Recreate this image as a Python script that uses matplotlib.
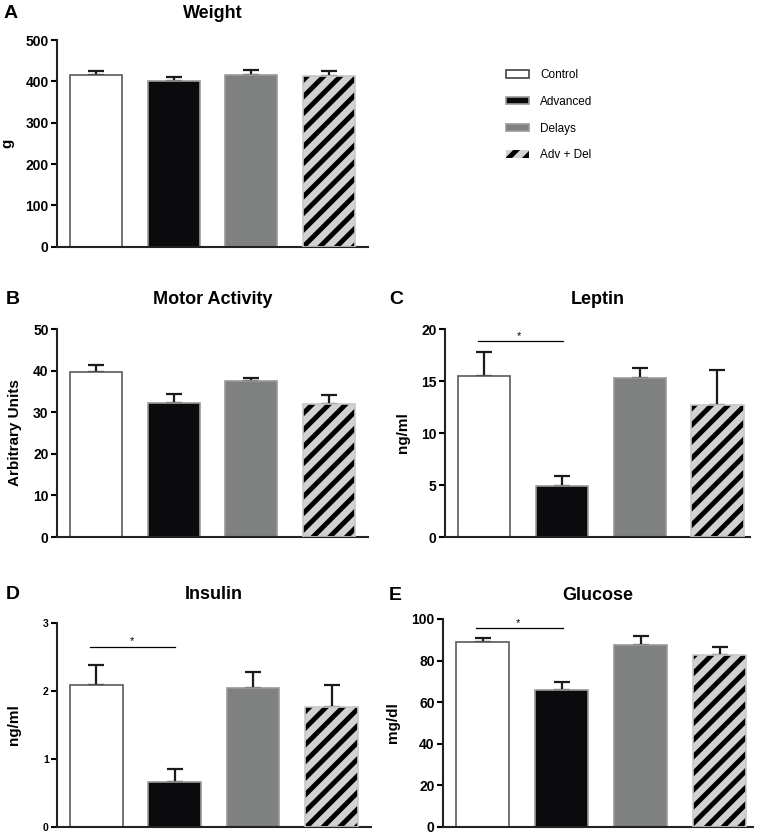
import numpy as np
import matplotlib
matplotlib.use("Agg")
import matplotlib.pyplot as plt
from matplotlib.patches import Patch
from matplotlib.transforms import blended_transform_factory, offset_copy

plt.rcParams['font.family'] = ['Liberation Sans', 'DejaVu Sans']
plt.rcParams['hatch.linewidth'] = 3.5

groups = ['Control', 'Advanced', 'Delays', 'Adv + Del']

weight = [415, 402, 415, 412]
weight_err = [9, 9, 13, 14]
motor = [39.6, 32.3, 37.4, 31.9]
motor_err = [1.8, 2.1, 0.9, 2.2]
leptin = [15.5, 4.9, 15.3, 12.7]
leptin_err = [2.3, 1.0, 1.0, 3.4]
insulin = [2.08, 0.66, 2.04, 1.76]
insulin_err = [0.30, 0.19, 0.23, 0.32]
glucose = [89.1, 65.8, 87.6, 82.7]
glucose_err = [1.6, 4.0, 4.2, 3.8]

faces = ['white', '#0b0b0d', '#7f8181', '#d2d2d2']
edges = ['#5a5a5a', '#9a9a9a', '#9a9a9a', '#c8c8c8']

fig = plt.figure(figsize=(7.6, 8.34), dpi=100)


def panel(rect, vals, errs, title, letter, ylabel, ymax, step, xmax=3.5,
          sig=None, small=False, pad=14, labelpad=8):
    ax = fig.add_axes(rect)
    x = np.arange(len(vals))
    for i in range(len(vals)):
        if i == 3:
            ax.bar(x[i], vals[i], 0.67, color=faces[i], edgecolor='black',
                   hatch='//', linewidth=0, zorder=2)
            ax.bar(x[i], vals[i], 0.67, fill=False, edgecolor=edges[i],
                   linewidth=1.2, zorder=3)
        else:
            ax.bar(x[i], vals[i], 0.67, color=faces[i], edgecolor=edges[i],
                   linewidth=1.2, zorder=2)
    ax.errorbar(x, vals, yerr=[np.zeros(len(errs)), errs], fmt='none',
                ecolor='#1a1a1a', elinewidth=1.6, capsize=6, capthick=1.6,
                zorder=1)
    ax.set_xlim(-0.5, xmax)
    ax.set_ylim(0, ymax)
    ax.set_yticks(np.arange(0, ymax + step / 2, step))
    ax.set_xticks([])
    for s in ['top', 'right']:
        ax.spines[s].set_visible(False)
    for s in ['left', 'bottom']:
        ax.spines[s].set_linewidth(1.5)
        ax.spines[s].set_color('#222222')
    ax.tick_params(axis='y', direction='out', length=4, width=1.5,
                   labelsize=7.5 if small else 10, pad=2)
    for lab in ax.get_yticklabels():
        lab.set_fontweight('bold')
    ax.set_ylabel(ylabel, fontsize=11, fontweight='bold', labelpad=labelpad)
    ax.set_title(title, fontsize=13, fontweight='bold', pad=pad)
    if sig is not None:
        ax.plot([-0.08, 1.01], [sig, sig], color='black', lw=0.9,
                clip_on=False)
        ax.text(0.45, sig, '*', ha='center', va='bottom', fontsize=8)
    tr = offset_copy(blended_transform_factory(fig.transFigure, ax.transAxes),
                     fig=fig, y=pad, units='points')
    ax.text(letter[1], 1, letter[0], transform=tr, fontsize=14,
            fontweight='bold', va='baseline', ha='left')
    return ax


panel([0.075, 0.704, 0.409, 0.248], weight, weight_err, 'Weight',
      ('A', 0.004), 'g', 500, 100, pad=16)
panel([0.075, 0.356, 0.409, 0.2495], motor, motor_err, 'Motor Activity',
      ('B', 0.008), 'Arbitrary Units', 50, 10, pad=18)
panel([0.5855, 0.356, 0.4015, 0.2495], leptin, leptin_err, 'Leptin',
      ('C', 0.512), 'ng/ml', 20, 5, xmax=3.42, sig=18.8, pad=18)
panel([0.075, 0.0084, 0.413, 0.245], insulin, insulin_err, 'Insulin',
      ('D', 0.008), 'ng/ml', 3, 1, sig=2.65, small=True, pad=17,
      labelpad=16)
panel([0.583, 0.0084, 0.408, 0.2494], glucose, glucose_err, 'Glucose',
      ('E', 0.512), 'mg/dl', 100, 20, xmax=3.42, sig=95.5, pad=14)

handles = []
for i in range(4):
    if i == 3:
        handles.append(Patch(facecolor=faces[i], edgecolor='black',
                             hatch='//', linewidth=0))
    else:
        handles.append(Patch(facecolor=faces[i],
                             edgecolor=edges[i] if i else '#444444',
                             linewidth=1.2))
fig.legend(handles, groups, loc='upper left', bbox_to_anchor=(0.652, 0.93),
           frameon=False, fontsize=8.5, handlelength=1.9, handleheight=0.6,
           labelspacing=1.25, handletextpad=1.0)

fig.savefig('out.png', dpi=100)
